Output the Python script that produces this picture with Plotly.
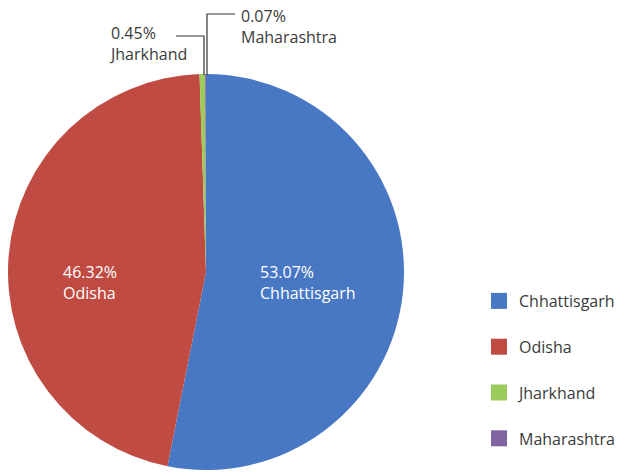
import plotly.graph_objects as go

W, H = 627, 472

states = ["Chhattisgarh", "Odisha", "Jharkhand", "Maharashtra"]
shares = [53.07, 46.32, 0.45, 0.07]
colors = ["#4877C4", "#C04B42", "#9BCB5B", "#8064A2"]

FONT = "Open Sans"
TXT = "#3a3a3a"
FS = 16

def px(x):
    return x / W

def py(y):
    return 1 - y / H

fig = go.Figure()
fig.add_trace(go.Pie(
    labels=states, values=shares, sort=False, direction="clockwise", rotation=0,
    marker=dict(colors=colors, line=dict(width=0)),
    textinfo="none", hoverinfo="label+value", showlegend=False,
    domain=dict(x=[px(8), px(404)], y=[py(470), py(74)]),
))

# legend via dummy traces (to control spacing)
for s, c in zip(states, colors):
    fig.add_trace(go.Scatter(
        x=[None], y=[None], mode="markers", name=s, legendgroup=s,
        marker=dict(symbol="square", size=16, color=c),
    ))

# inside labels
inside = {0: (258, 282), 1: (61, 282)}
for i, (x, y) in inside.items():
    fig.add_annotation(
        x=px(x), y=py(y), xref="paper", yref="paper", xanchor="left", yanchor="middle",
        text=f"{shares[i]:.2f}%<br>{states[i]}", showarrow=False, align="left",
        font=dict(family=FONT, size=FS, color="white"),
    )

# outside labels
fig.add_annotation(
    x=px(107), y=py(44), xref="paper", yref="paper", xanchor="left", yanchor="middle",
    text=f"{shares[2]:.2f}%<br>{states[2]}", showarrow=False, align="left",
    font=dict(family=FONT, size=FS, color=TXT),
)
fig.add_annotation(
    x=px(239), y=py(27), xref="paper", yref="paper", xanchor="left", yanchor="middle",
    text=f"{shares[3]:.2f}%<br>{states[3]}", showarrow=False, align="left",
    font=dict(family=FONT, size=FS, color=TXT),
)

line = dict(color="#333333", width=1.2)
fig.add_shape(type="path", xref="paper", yref="paper",
              path=f"M {px(176)} {py(36)} L {px(204)} {py(36)} L {px(204)} {py(75)}", line=line)
fig.add_shape(type="path", xref="paper", yref="paper",
              path=f"M {px(207)} {py(75)} L {px(207)} {py(14)} L {px(235)} {py(14)}", line=line)

fig.update_layout(
    width=W, height=H,
    margin=dict(l=0, r=0, t=0, b=0),
    paper_bgcolor="white", plot_bgcolor="white",
    xaxis=dict(visible=False), yaxis=dict(visible=False),
    legend=dict(x=px(479), y=py(284), xanchor="left", yanchor="top",
                tracegroupgap=22, font=dict(family=FONT, size=FS, color=TXT),
                itemwidth=30),
)

fig.write_html("out.html", config={"displayModeBar": False},
               post_script="document.body.style.margin='0';")
